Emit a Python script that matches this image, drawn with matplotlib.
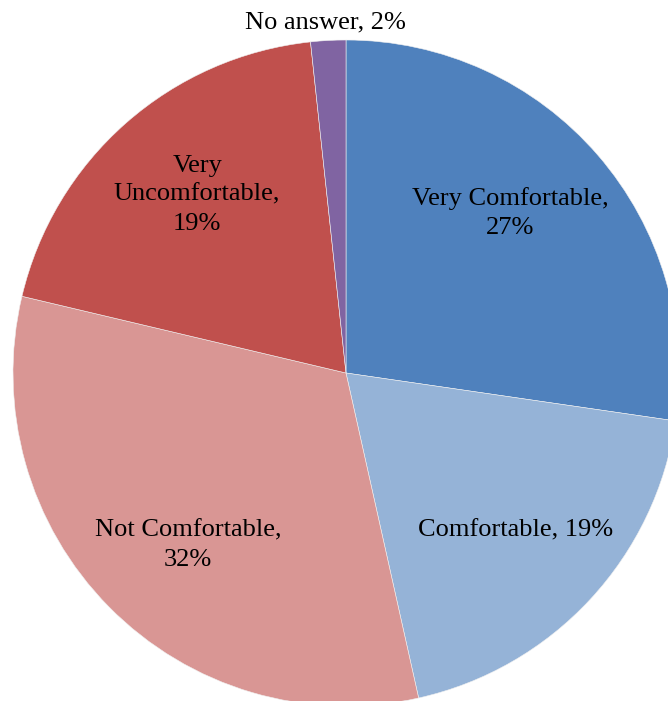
import matplotlib.pyplot as plt

plt.rcParams['font.family'] = ['Liberation Serif', 'DejaVu Serif']

categories = ['Very Comfortable', 'Comfortable', 'Not Comfortable', 'Very Uncomfortable', 'No answer']
values = [27.3, 19.2, 32.2, 19.6, 1.7]
label_texts = ['Very Comfortable,\n27%', 'Comfortable, 19%', 'Not Comfortable,\n32%',
               'Very\nUncomfortable,\n19%', 'No answer, 2%']
colors = ['#4F81BD', '#95B3D7', '#D99694', '#C0504D', '#8064A2']

fig = plt.figure(figsize=(6.68, 7.01), dpi=100)
ax = fig.add_axes([0, 0, 1, 1])
ax.pie(values, colors=colors, startangle=90, counterclock=False,
       wedgeprops=dict(edgecolor='#f0f0f0', linewidth=0.4))

# label positions (relative to pie centre, radius = 1)
label_pos = [(0.492, 0.48), (0.51, -0.474), (-0.474, -0.517), (-0.447, 0.535), (-0.063, 1.054)]
for txt, (x, y) in zip(label_texts, label_pos):
    ax.text(x, y, txt, ha='center', va='center', fontsize=19, linespacing=1.4)

ax.set_xlim(-346 / 333, (668 - 346) / 333)
ax.set_ylim(-(701 - 373) / 333, 373 / 333)
ax.set_aspect('auto')
ax.axis('off')

fig.savefig('out.png', dpi=100)
